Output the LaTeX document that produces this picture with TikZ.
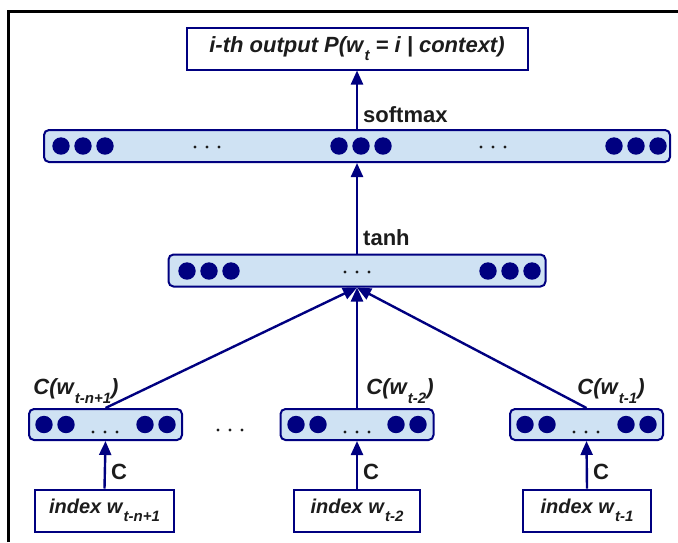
\documentclass[tikz,border=0pt]{standalone}
\usepackage{fontspec}
\setmainfont{Liberation Sans}
\usepackage{tikz}
\usetikzlibrary{arrows.meta}

\definecolor{netblue}{RGB}{0,0,128}
\definecolor{layerfill}{RGB}{207,226,243}
\definecolor{inkgray}{RGB}{28,28,28}

\begin{document}
\begin{tikzpicture}[
    x=0.5pt,
    y=-0.5pt,
    frameline/.style={draw=black, line width=1.5pt},
    layer/.style={draw=netblue, fill=layerfill, line width=1pt, rounded corners=2.5pt, inner sep=0pt, minimum height=16pt},
    wordbox/.style={draw=netblue, fill=white, line width=1pt, inner sep=0pt, minimum height=21pt, text=inkgray},
    cell/.style={fill=netblue},
    gapdot/.style={fill=inkgray},
    link/.style={draw=netblue, line width=1.2pt, -{Triangle[length=7pt,width=6pt]}},
    opname/.style={font=\fontsize{11}{13}\selectfont\bfseries, text=inkgray, inner sep=2.5pt},
    embname/.style={font=\fontsize{11}{13}\selectfont\bfseries\itshape, text=inkgray, inner sep=1pt}
  ]
    \newcommand{\neuronrow}[4]{%
      \foreach \x in {#2} {\fill[cell] (\x,#1) circle[radius=8.7];}
      \foreach \x in {#4} {\fill[gapdot] (\x,#3) circle[radius=1.7];}
    }
    \newcommand{\lowsub}[1]{\kern0.6pt\raisebox{-0.75ex}{\fontsize{7.5}{9}\selectfont #1}}
    \useasboundingbox (0,0) rectangle (678,542);
    \draw[frameline] (8.5,542) -- (8.5,11) -- (678,11);

    % output and the two upper layers
    \node[wordbox, minimum width=170.5pt, font=\fontsize{11}{13}\selectfont\bfseries\itshape] (out) at (357,48.5)
      {i-th output P(w\lowsub{t} = i | context)};
    \node[layer, minimum width=313pt] (soft) at (357,146) {};
    \neuronrow{146}{61,83,105,339,361,383,614,636,658}{147}{195,207,219,481,493,505}
    \node[layer, minimum width=188.5pt] (hid) at (357,270.5) {};
    \neuronrow{271}{187,209,231,488,510,532}{272}{345,357,369}

    % embedding layers
    \node[layer, minimum width=76.5pt, minimum height=15.5pt] (embA) at (105.5,424.5) {};
    \node[layer, minimum width=76.5pt, minimum height=15.5pt] (embB) at (357,424.5) {};
    \node[layer, minimum width=76.5pt, minimum height=15.5pt] (embC) at (586.5,424.5) {};
    \neuronrow{424.5}{44,66,145,167}{432}{93,105,117}
    \neuronrow{424.5}{296,318,396,418}{432}{345,357,369}
    \neuronrow{424.5}{525,547,626,648}{432}{574,586,598}
    \foreach \x in {218,230,242} {\fill[gapdot] (\x,430) circle[radius=1.7];}

    \node[embname, anchor=west] (labA) at (31,391) {C(w\lowsub{t-n+1})};
    \node[embname, anchor=west] (labB) at (364,391) {C(w\lowsub{t-2})};
    \node[embname, anchor=west] (labC) at (575,391) {C(w\lowsub{t-1})};

    % word indices
    \node[wordbox, minimum width=69.5pt, font=\fontsize{10}{12}\selectfont\bfseries\itshape] (idxA) at (104.5,510.5) {index w\lowsub{t-n+1}};
    \node[wordbox, minimum width=63pt, font=\fontsize{10}{12}\selectfont\bfseries\itshape] (idxB) at (357,510.5) {index w\lowsub{t-2}};
    \node[wordbox, minimum width=64pt, font=\fontsize{10}{12}\selectfont\bfseries\itshape] (idxC) at (587,510.5) {index w\lowsub{t-1}};

    % connections
    \draw[link] (soft.north) -- node[opname, right, pos=0.25] {softmax} (out.south);
    \draw[link] (hid.north) -- node[opname, right, pos=0.17] {tanh} (soft.south);
    \draw[link] (embA.north) -- (hid.south);
    \draw[link] (embB.north) -- (hid.south);
    \draw[link] (embC.north) -- (hid.south);
    \draw[link] (idxA.north) -- node[opname, right, pos=0.34] {C} (embA.south);
    \draw[link] (idxB.north) -- node[opname, right, pos=0.34] {C} (embB.south);
    \draw[link] (idxC.north) -- node[opname, right, pos=0.34] {C} (embC.south);
  \end{tikzpicture}
\end{document}
